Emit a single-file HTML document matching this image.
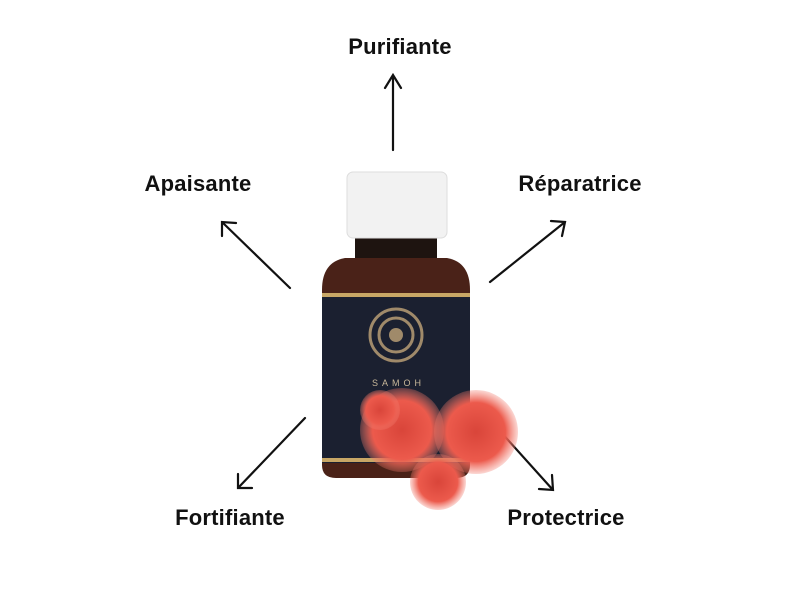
<!DOCTYPE html>
<html><head><meta charset="utf-8"><style>
html,body{margin:0;padding:0;background:#fff;width:800px;height:600px;overflow:hidden;position:relative;font-family:"Liberation Sans","DejaVu Sans",sans-serif}
.t{position:absolute;font-size:22px;font-weight:bold;color:#111;transform:translateX(-50%);white-space:nowrap;letter-spacing:0.2px}
</style></head><body>
<div class="t" style="left:400px;top:34px">Purifiante</div>
<div class="t" style="left:198px;top:171px">Apaisante</div>
<div class="t" style="left:580px;top:171px">Réparatrice</div>
<div class="t" style="left:230px;top:505px">Fortifiante</div>
<div class="t" style="left:566px;top:505px">Protectrice</div>
<svg width="800" height="600" style="position:absolute;left:0;top:0">
<defs>
<radialGradient id="fl" cx="50%" cy="50%" r="50%"><stop offset="0" stop-color="#d9453a"/><stop offset="0.7" stop-color="#ec5a4c"/><stop offset="1" stop-color="#f27a6c" stop-opacity="0.3"/></radialGradient>
</defs>
<g stroke="#111" stroke-width="2.2" fill="none" stroke-linecap="round">
<path d="M393 150 L393 76 M385 88 L393 75 L401 88"/>
<path d="M290 288 L222 222 M222 236 L222 222 L236 223"/>
<path d="M490 282 L565 222 M551 221 L565 222 L562 236"/>
<path d="M305 418 L238 488 M238 474 L238 488 L252 488"/>
<path d="M490 420 L553 490 M552 475 L553 490 L539 489"/>
</g>
<!-- bottle -->
<path d="M355 238 H437 V258 H355 Z" fill="#1e1410"/>
<path d="M345 258 Q322 262 322 290 V465 Q322 478 336 478 H456 Q470 478 470 465 V290 Q470 262 447 258 Z" fill="#4a2218"/>
<rect x="322" y="293" width="148" height="170" fill="#1b2030"/>
<rect x="322" y="293" width="148" height="4" fill="#c8a766"/>
<rect x="322" y="458" width="148" height="4" fill="#c8a766"/>
<circle cx="396" cy="335" r="26" fill="none" stroke="#a08a6a" stroke-width="3"/>
<circle cx="396" cy="335" r="17" fill="none" stroke="#a08a6a" stroke-width="3"/>
<circle cx="396" cy="335" r="7" fill="#a08a6a"/>
<text x="372" y="386" font-size="9" fill="#c8b89a" font-family="Liberation Sans" letter-spacing="4">SAMOH</text>
<rect x="347" y="172" width="100" height="66" rx="6" fill="#f2f2f2" stroke="#ddd"/>
<!-- flowers -->
<circle cx="402" cy="430" r="42" fill="url(#fl)"/>
<circle cx="476" cy="432" r="42" fill="url(#fl)"/>
<circle cx="438" cy="482" r="28" fill="url(#fl)"/>
<circle cx="380" cy="410" r="20" fill="url(#fl)"/>
</svg>
</body></html>
